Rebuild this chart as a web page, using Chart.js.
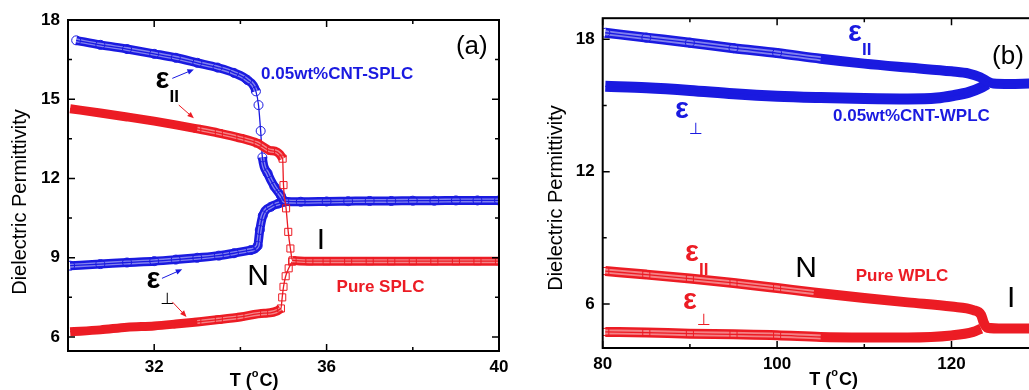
<!DOCTYPE html>
<html>
<head>
<meta charset="utf-8">
<title>Dielectric permittivity vs temperature</title>
<script src="https://cdn.jsdelivr.net/npm/chart.js@4/dist/chart.umd.min.js"></script>
<style>
  html, body { margin: 0; padding: 0; background: #fff; width: 1029px; height: 390px; overflow: hidden; }
  #wrapA { position: absolute; left: 0; top: 0; width: 520px; height: 390px; }
  #wrapB { position: absolute; left: 520px; top: 0; width: 540px; height: 390px; }
</style>
</head>
<body>
<div id="wrapA"><canvas id="chartA"></canvas></div>
<div id="wrapB"><canvas id="chartB"></canvas></div>
<script>
// ==============================
// DATA - PANEL (a) : SPLC, T in °C
// ==============================
const tA_cntPar = [30.19, 30.75, 31.37, 32.0, 32.5, 33.0, 33.47, 33.85, 34.16, 34.36, 34.42, 34.47, 34.51, 34.63, 34.79, 34.94, 35.02, 35.4, 36.0, 36.5, 37.0, 37.5, 38.0, 38.5, 39.0, 39.5, 40.0];
const epsA_cntPar = [17.23, 17.06, 16.9, 16.72, 16.57, 16.38, 16.2, 16.0, 15.73, 15.3, 14.78, 13.8, 12.8, 12.2, 11.69, 11.35, 11.14, 11.12, 11.13, 11.14, 11.15, 11.15, 11.16, 11.16, 11.17, 11.17, 11.17];

const tA_cntPerp = [30.05, 30.75, 31.37, 32.0, 32.5, 33.0, 33.5, 33.85, 34.24, 34.4, 34.45, 34.52, 34.71, 34.88, 35.02];
const epsA_cntPerp = [8.7, 8.76, 8.82, 8.87, 8.93, 9.0, 9.08, 9.17, 9.29, 9.45, 10.05, 10.6, 10.93, 11.05, 11.12];

const tA_purePar = [30.05, 30.75, 31.37, 32.0, 32.5, 33.0, 33.5, 34.0, 34.4, 34.71, 34.98, 35.0, 35.06, 35.11, 35.16, 35.21, 35.6, 36.0, 36.5, 37.0, 37.5, 38.0, 38.5, 39.0, 39.5, 40.0];
const epsA_purePar = [14.64, 14.48, 14.33, 14.17, 14.03, 13.88, 13.72, 13.53, 13.33, 13.05, 12.75, 11.75, 10.87, 9.98, 9.35, 8.9, 8.87, 8.87, 8.87, 8.87, 8.87, 8.87, 8.87, 8.87, 8.87, 8.87];

const tA_purePerp = [30.05, 30.75, 31.37, 32.0, 32.5, 33.0, 33.5, 34.0, 34.55, 34.94, 34.97, 35.0, 35.05, 35.12, 35.2];
const epsA_purePerp = [6.2, 6.27, 6.37, 6.42, 6.49, 6.57, 6.66, 6.76, 6.9, 7.08, 7.5, 7.9, 8.3, 8.6, 8.85];

// ==============================
// DATA - PANEL (b) : WPLC, T in °C
// ==============================
const tB_cntPar = [80.3, 85, 90, 95, 100, 105, 110, 115, 120, 122, 123.3, 124.1, 124.8, 126.7, 128.9];
const epsB_cntPar = [18.3, 18.08, 17.85, 17.6, 17.38, 17.12, 16.9, 16.72, 16.55, 16.45, 16.28, 16.1, 16.0, 15.98, 16.0];

const tB_cntPerp = [80.3, 85, 90, 95, 100, 105, 110, 115, 118.3, 120.2, 122, 123.3, 124.1];
const epsB_cntPerp = [15.87, 15.8, 15.68, 15.53, 15.42, 15.36, 15.32, 15.3, 15.34, 15.45, 15.6, 15.8, 15.98];

const tB_purePar = [80.3, 85, 90, 95, 100, 104.2, 110, 115, 120, 122.5, 123.4, 123.7, 124.1, 126, 128.9];
const epsB_purePar = [7.49, 7.33, 7.15, 6.95, 6.72, 6.52, 6.27, 6.07, 5.88, 5.72, 5.5, 5.15, 4.92, 4.88, 4.88];

const tB_purePerp = [80.3, 85, 90, 95, 100, 105, 110, 115, 120, 122.5, 123.4];
const epsB_purePerp = [4.73, 4.7, 4.65, 4.62, 4.58, 4.5, 4.48, 4.48, 4.57, 4.73, 4.88];

// ==============================
// TICKS
// ==============================
const xTicksA = [32, 36, 40], xMinorA = [34, 38];
const yTicksA = [6, 9, 12, 15, 18], yMinorA = [7.5, 10.5, 13.5, 16.5];
const xTicksB = [80, 100, 120], xMinorB = [90, 110];
const yTicksB = [6, 12, 18], yMinorB = [9, 15];

const BLUE = '#1a1ae0';
const RED = '#ec1c24';
const FONT = 'Arial, "Liberation Sans", sans-serif';

// ==============================
// HELPERS
// ==============================
function toPts(xs, ys) {
  return xs.map((x, i) => ({ x: x, y: ys[i] }));
}

// how a stretch of the curve looks: dense solid band, band of hollow markers, or single markers
function modeAt(st, x0, x1) {
  if (x1 === undefined) x1 = x0;
  for (const g of st.gaps || []) {
    if (x0 >= g[0] && x1 <= g[1]) return 'none';
  }
  if (x0 >= st.hollow[0] && x0 < st.hollow[1]) return 'hollow';
  return 'solid';
}

function seriesSets(xs, ys, color, marker, st, base) {
  const data = toPts(xs, ys);
  const seg = c => modeAt(st, c.p0.parsed.x, c.p1.parsed.x);
  const inner = 'rgba(255,255,255,0.45)';
  const clear = 'rgba(0,0,0,0)';
  return [
    { data: data, showLine: true, borderWidth: st.band, borderColor: color, pointRadius: 0,
      cubicInterpolationMode: 'monotone', order: base + 2,
      segment: { borderColor: c => seg(c) === 'none' ? clear : color } },
    { data: data, showLine: true, borderWidth: st.band - 5, borderColor: inner, pointRadius: 0,
      cubicInterpolationMode: 'monotone', order: base + 1,
      segment: { borderColor: c => seg(c) === 'hollow' ? inner : clear } },
    { data: data, showLine: true, borderWidth: 1.3, borderColor: color,
      cubicInterpolationMode: 'monotone', order: base,
      pointStyle: marker,
      pointRadius: c => modeAt(st, c.parsed.x) === 'solid' ? 0 : st.r,
      pointBorderColor: color, pointBackgroundColor: 'rgba(255,255,255,0)', pointBorderWidth: 1 }
  ];
}

function arrowLine(ctx, x0, y0, x1, y1, color) {
  const ang = Math.atan2(y1 - y0, x1 - x0);
  ctx.strokeStyle = color;
  ctx.fillStyle = color;
  ctx.lineWidth = 1;
  ctx.beginPath();
  ctx.moveTo(x0, y0);
  ctx.lineTo(x1 - 4 * Math.cos(ang), y1 - 4 * Math.sin(ang));
  ctx.stroke();
  ctx.beginPath();
  ctx.moveTo(x1, y1);
  ctx.lineTo(x1 - 7 * Math.cos(ang - 0.4), y1 - 7 * Math.sin(ang - 0.4));
  ctx.lineTo(x1 - 7 * Math.cos(ang + 0.4), y1 - 7 * Math.sin(ang + 0.4));
  ctx.closePath();
  ctx.fill();
}

// ==============================
// FRAME, INWARD TICKS, TITLES, LABELS
// ==============================
const decorations = {
  id: 'decorations',
  afterDraw(chart, args, o) {
    const ctx = chart.ctx, a = chart.chartArea;
    const sx = chart.scales.x, sy = chart.scales.y;
    const px = v => sx.getPixelForValue(v), py = v => sy.getPixelForValue(v);
    ctx.save();

    ctx.strokeStyle = '#000';
    ctx.lineWidth = 1.5;
    const xt = (vals, len) => vals.forEach(v => {
      const p = px(v);
      ctx.beginPath();
      ctx.moveTo(p, a.bottom); ctx.lineTo(p, a.bottom - len);
      ctx.moveTo(p, a.top); ctx.lineTo(p, a.top + len);
      ctx.stroke();
    });
    const yt = (vals, len) => vals.forEach(v => {
      const p = py(v);
      ctx.beginPath();
      ctx.moveTo(a.left, p); ctx.lineTo(a.left + len, p);
      ctx.moveTo(a.right, p); ctx.lineTo(a.right - len, p);
      ctx.stroke();
    });
    xt(o.xTicks, 7); xt(o.xMinor, 4);
    yt(o.yTicks, 7); yt(o.yMinor, 4);
    ctx.lineWidth = 2;
    ctx.strokeRect(a.left, a.top, a.right - a.left, a.bottom - a.top);

    // y title
    ctx.fillStyle = '#000';
    ctx.save();
    ctx.translate(o.yTitle[0], o.yTitle[1]);
    ctx.rotate(-Math.PI / 2);
    ctx.font = '20px ' + FONT;
    ctx.textAlign = 'center';
    ctx.textBaseline = 'middle';
    ctx.fillText('Dielectric Permittivity', 0, 0);
    ctx.restore();

    // x title T (°C) with raised o
    ctx.textAlign = 'left';
    ctx.textBaseline = 'alphabetic';
    const big = 'bold 18px ' + FONT, small = 'bold 11px ' + FONT;
    ctx.font = big; const w1 = ctx.measureText('T (').width, w3 = ctx.measureText('C)').width;
    ctx.font = small; const w2 = ctx.measureText('o').width + 1;
    let cx = px(o.xTitle[0]) - (w1 + w2 + w3) / 2;
    const base = o.xTitle[1];
    ctx.font = big; ctx.fillText('T (', cx, base); cx += w1;
    ctx.font = small; ctx.fillText('o', cx, base - 9); cx += w2;
    ctx.font = big; ctx.fillText('C)', cx, base);

    // text notes
    o.notes.forEach(n => {
      ctx.font = n.font;
      ctx.fillStyle = n.color;
      ctx.textAlign = n.align;
      ctx.textBaseline = 'middle';
      ctx.fillText(n.text, px(n.x), py(n.y));
    });

    // epsilon labels with subscripts
    o.eps.forEach(e => {
      const x = px(e.x), y = py(e.y);
      ctx.fillStyle = e.color;
      ctx.textAlign = 'left';
      ctx.textBaseline = 'alphabetic';
      ctx.font = 'bold 29px ' + FONT;
      ctx.fillText('ε', x, y);
      if (e.sub === 'II') {
        ctx.font = 'bold 17px ' + FONT;
        ctx.fillText('II', x + 14, y + 14);
      } else {
        ctx.font = '16px "DejaVu Sans", sans-serif';
        ctx.fillText('⊥', x + 14, y + 16);
      }
    });

    (o.arrows || []).forEach(r => {
      arrowLine(ctx, px(r.from[0]), py(r.from[1]), px(r.to[0]), py(r.to[1]), r.color);
    });

    ctx.restore();
  }
};

function makeChart(id, datasets, cfg) {
  const tickFont = { family: FONT, size: 17, weight: 'bold' };
  return new Chart(document.getElementById(id), {
    type: 'scatter',
    data: { datasets: datasets },
    options: {
      responsive: true,
      maintainAspectRatio: false,
      animation: false,
      layout: { padding: cfg.pad },
      plugins: {
        legend: { display: false },
        tooltip: { enabled: false },
        decorations: cfg.deco
      },
      scales: {
        x: {
          type: 'linear', min: cfg.xRange[0], max: cfg.xRange[1],
          grid: { display: false, drawTicks: false }, border: { display: false },
          afterBuildTicks: s => { s.ticks = cfg.deco.xTicks.map(v => ({ value: v })); },
          afterFit: s => { s.height = cfg.xH; },
          ticks: { font: tickFont, color: '#000', padding: 6, maxRotation: 0, autoSkip: false }
        },
        y: {
          type: 'linear', min: cfg.yRange[0], max: cfg.yRange[1],
          grid: { display: false, drawTicks: false }, border: { display: false },
          afterBuildTicks: s => { s.ticks = cfg.deco.yTicks.map(v => ({ value: v })); },
          afterFit: s => { s.width = cfg.yW; },
          ticks: { font: tickFont, color: '#000', padding: 8, autoSkip: false }
        }
      }
    },
    plugins: [decorations]
  });
}

// ==============================
// PANEL (a)
// ==============================
const setsA = [].concat(
  seriesSets(tA_purePar, epsA_purePar, RED, 'rect', { band: 9, r: 5, hollow: [33, 99], gaps: [[34.98, 35.21]] }, 0),
  seriesSets(tA_purePerp, epsA_purePerp, RED, 'rect', { band: 9, r: 5, hollow: [33, 99], gaps: [[34.94, 35.2]] }, 10),
  seriesSets(tA_cntPar, epsA_cntPar, BLUE, 'circle', { band: 9, r: 4.5, hollow: [0, 99], gaps: [[34.36, 34.51]] }, 20),
  seriesSets(tA_cntPerp, epsA_cntPerp, BLUE, 'circle', { band: 9, r: 4.5, hollow: [0, 99] }, 30)
);

makeChart('chartA', setsA, {
  pad: { top: 20, right: 21, left: 0, bottom: 0 },
  xH: 39, yW: 68,
  xRange: [30, 40], yRange: [5.47, 18],
  deco: {
    xTicks: xTicksA, xMinor: xMinorA, yTicks: yTicksA, yMinor: yMinorA,
    yTitle: [20.5, 202], xTitle: [34.32, 386],
    notes: [
      { text: '(a)', x: 39.37, y: 16.98, font: '26px ' + FONT, color: '#000', align: 'center' },
      { text: '0.05wt%CNT-SPLC', x: 34.48, y: 15.95, font: 'bold 17px ' + FONT, color: BLUE, align: 'left' },
      { text: 'N', x: 34.41, y: 8.3, font: '30px ' + FONT, color: '#000', align: 'center' },
      { text: 'I', x: 35.87, y: 9.63, font: '30px ' + FONT, color: '#000', align: 'center' },
      { text: 'Pure SPLC', x: 37.25, y: 7.89, font: 'bold 17px ' + FONT, color: RED, align: 'center' }
    ],
    eps: [
      { x: 32.03, y: 15.42, sub: 'II', color: '#000' },
      { x: 31.82, y: 7.85, sub: 'perp', color: '#000' }
    ],
    arrows: [
      { from: [32.42, 15.79], to: [32.92, 16.13], color: BLUE },
      { from: [32.57, 14.78], to: [32.92, 14.28], color: RED },
      { from: [32.18, 8.22], to: [32.65, 8.56], color: BLUE },
      { from: [32.42, 7.33], to: [32.75, 6.76], color: RED }
    ]
  }
});

// ==============================
// PANEL (b)
// ==============================
const setsB = [].concat(
  seriesSets(tB_purePar, epsB_purePar, RED, 'rect', { band: 10, r: 5, hollow: [0, 104] }, 0),
  seriesSets(tB_purePerp, epsB_purePerp, RED, 'rect', { band: 10, r: 5, hollow: [0, 104] }, 10),
  seriesSets(tB_cntPar, epsB_cntPar, BLUE, 'circle', { band: 10, r: 4.5, hollow: [0, 104] }, 20),
  seriesSets(tB_cntPerp, epsB_cntPerp, BLUE, 'circle', { band: 11, r: 4.5, hollow: [0, 0] }, 30)
);

makeChart('chartB', setsB, {
  pad: { top: 14, right: 21.3, left: 0, bottom: 0 },
  xH: 42, yW: 82.7,
  xRange: [80, 130], yRange: [4.0, 18.96],
  deco: {
    xTicks: xTicksB, xMinor: xMinorB, yTicks: yTicksB, yMinor: yMinorB,
    yTitle: [36.5, 198], xTitle: [106.47, 385],
    notes: [
      { text: '(b)', x: 126.48, y: 17.22, font: '26px ' + FONT, color: '#000', align: 'center' },
      { text: '0.05wt%CNT-WPLC', x: 106.41, y: 14.49, font: 'bold 17px ' + FONT, color: BLUE, align: 'left' },
      { text: 'N', x: 103.31, y: 7.58, font: '30px ' + FONT, color: '#000', align: 'center' },
      { text: 'Pure WPLC', x: 114.32, y: 7.27, font: 'bold 17px ' + FONT, color: RED, align: 'center' },
      { text: 'I', x: 126.83, y: 6.24, font: '30px ' + FONT, color: '#000', align: 'center' }
    ],
    eps: [
      { x: 108.13, y: 17.94, sub: 'II', color: BLUE },
      { x: 88.29, y: 14.44, sub: 'perp', color: BLUE },
      { x: 89.44, y: 7.94, sub: 'II', color: RED },
      { x: 89.21, y: 5.79, sub: 'perp', color: RED }
    ],
    arrows: []
  }
});
</script>
</body>
</html>
